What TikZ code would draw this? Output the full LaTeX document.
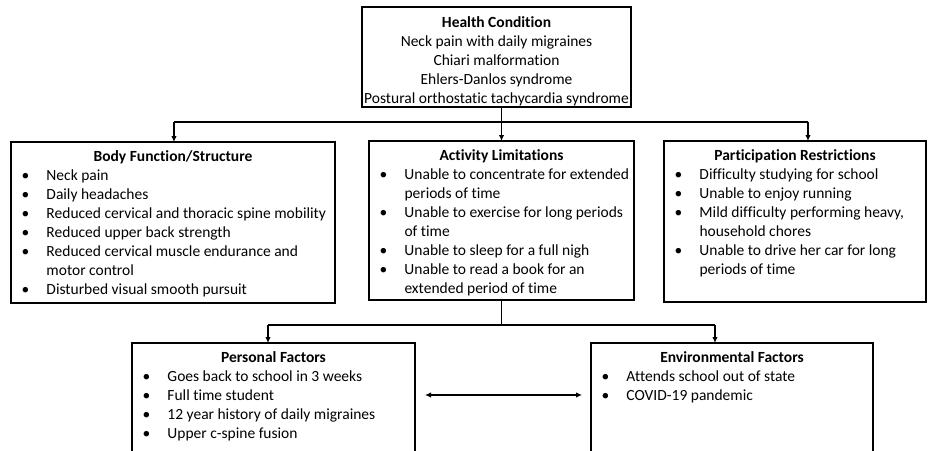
\documentclass[tikz,border=0pt]{standalone}
\usepackage{fontspec}
\setmainfont[Ligatures=NoCommon]{Carlito}
\usetikzlibrary{arrows.meta,calc}

\newcommand\hd[1]{\par{\centering\bfseries\rule{0pt}{19pt}#1\par}}
\newcommand\bi[1]{\par\hangindent=35.5pt\hangafter=1\noindent\hbox to 35.5pt{\hskip 10.5pt\textbullet\hss}#1}
\newcommand\cbox[3]{\begin{minipage}[t][#2][t]{#1}\parskip=0pt\raggedright #3\par\end{minipage}}
\newcommand\nl{\hfil\break}

\begin{document}
\begin{tikzpicture}[x=1pt,y=-1pt,
  box/.style={draw=black, line width=1.7pt, inner sep=0pt, outer sep=0pt, anchor=north west,
    font=\fontsize{15.5}{19}\selectfont},
  conn/.style={draw=black, line width=1.2pt},
  arr/.style={conn, -{Latex[length=6pt,width=5.5pt]}},
  darr/.style={conn, {Latex[length=6pt,width=5.5pt]}-{Latex[length=6pt,width=5.5pt]}}]
\path[use as bounding box] (0,0) rectangle (928,450);
\clip (0,0) rectangle (928,450);

\node[box] (health) at (362,7) {\begin{minipage}[t][100pt][t]{269pt}\centering\rule{0pt}{20pt}\textbf{Health Condition}\\
 Neck pain with daily migraines\\ Chiari malformation\\ Ehlers-Danlos syndrome\\ Postural orthostatic tachycardia syndrome\end{minipage}};

\node[box] (body) at (11,142) {\cbox{324pt}{161pt}{\hd{Body Function/Structure}%
 \bi{Neck pain}\bi{Daily headaches}\bi{Reduced cervical and thoracic spine mobility}%
 \bi{Reduced upper back strength}\bi{Reduced cervical muscle endurance and\nl motor control}%
 \bi{Disturbed visual smooth pursuit}}};

\node[box] (act) at (369,141) {\cbox{265pt}{159pt}{\hd{Activity Limitations}%
 \bi{Unable to concentrate for extended\nl periods of time}\bi{Unable to exercise for long periods\nl of time}%
 \bi{Unable to sleep for a full nigh}\bi{Unable to read a book for an\nl extended period of time}}};

\node[box] (part) at (664,141) {\cbox{262pt}{161pt}{\hd{Participation Restrictions}%
 \bi{Difficulty studying for school}\bi{Unable to enjoy running}%
 \bi{Mild difficulty performing heavy,\nl household chores}\bi{Unable to drive her car for long\nl periods of time}}};

\node[box] (pers) at (132,343) {\cbox{283pt}{125pt}{\hd{Personal Factors}%
 \bi{Goes back to school in 3 weeks}\bi{Full time student}%
 \bi{12 year history of daily migraines}\bi{Upper c-spine fusion}}};

\node[box] (env) at (591,343) {\cbox{282pt}{125pt}{\hd{Environmental Factors}%
 \bi{Attends school out of state}\bi{COVID-19 pandemic}}};

\coordinate (jl) at (174,122);
\coordinate (jr) at (808,122);
\draw[conn] (jl) -- (jr);
\draw[arr] (jl) -- (jl |- body.north);
\draw[arr] (jr) -- (jr |- part.north);
\draw[arr] (health.south -| act.north) -- (act.north);

\coordinate (bl) at (268,325);
\coordinate (br) at (715,325);
\draw[conn] (act.south) -- (act.south |- bl);
\draw[conn] (bl) -- (br);
\draw[arr] (bl) -- (bl |- pers.north);
\draw[arr] (br) -- (br |- env.north);
\draw[darr] ($(pers.north east)+(10,52)$) -- ($(env.north west)+(-9,52)$);
\end{tikzpicture}
\end{document}
